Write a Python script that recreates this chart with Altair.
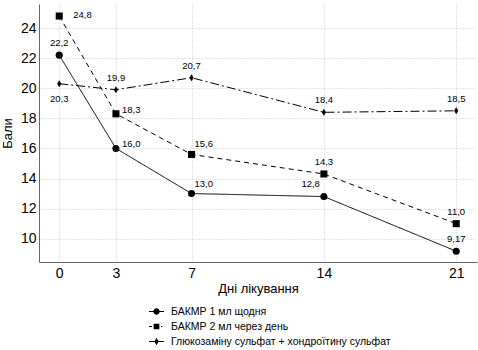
import altair as alt
import pandas as pd

days = [0, 3, 7, 14, 21]
series_names = ["БАКМР 1 мл щодня", "БАКМР 2 мл через день",
                "Глюкозаміну сульфат + хондроїтину сульфат"]
s1 = [22.2, 16.0, 13.0, 12.8, 9.17]
s2 = [24.8, 18.3, 15.6, 14.3, 11.0]
s3 = [20.3, 19.9, 20.7, 18.4, 18.5]
labels1 = ["22,2", "16,0", "13,0", "12,8", "9,17"]
labels2 = ["24,8", "18,3", "15,6", "14,3", "11,0"]
labels3 = ["20,3", "19,9", "20,7", "18,4", "18,5"]
place1 = ["above", "right", "aboveright", "aboveleft", "above"]
place2 = ["farright", "right", "aboveright", "above", "above"]
place3 = ["below", "above", "above", "above", "above"]
y_ticks = [10, 12, 14, 16, 18, 20, 22, 24]

rows = []
for name, vals, labs, places in zip(series_names, [s1, s2, s3],
                                    [labels1, labels2, labels3],
                                    [place1, place2, place3]):
    for d, v, lab, p in zip(days, vals, labs, places):
        rows.append({"day": d, "value": v, "series": name, "label": lab, "place": p})
df = pd.DataFrame(rows)

FONT = "Liberation Sans Narrow, Liberation Sans, Arial, sans-serif"

x_enc = alt.X("day:Q", scale=alt.Scale(domain=[-1.07, 22.1], nice=False, zero=False),
              axis=alt.Axis(values=days, title="Дні лікування", format="d"))
y_enc = alt.Y("value:Q", scale=alt.Scale(domain=[8.45, 25.6], nice=False, zero=False),
              axis=alt.Axis(values=y_ticks, title="Бали", format="d"))

base = alt.Chart(df)

lines = base.mark_line(color="black", strokeWidth=1).encode(
    x=x_enc, y=y_enc,
    strokeDash=alt.StrokeDash("series:N", scale=alt.Scale(domain=series_names,
                              range=[[1, 0], [5, 4], [9, 3, 2, 3]]), legend=None),
    detail="series:N",
)

points = base.mark_point(filled=True, color="black", opacity=1, size=50).encode(
    x=x_enc, y=y_enc,
    shape=alt.Shape("series:N", scale=alt.Scale(domain=series_names,
                    range=["circle", "square", "M0,-1L0.6,0L0,1L-0.6,0Z"]), legend=None),
)

# legend glyphs: line segments drawn as thin filled bars plus the marker
legend_paths = [
    "M-1,-0.07H-0.4V0.07H-1ZM0.4,-0.07H1V0.07H0.4Z"
    "M0.42,0A0.42,0.42,0,1,1,-0.42,0A0.42,0.42,0,1,1,0.42,0Z",
    "M-1,-0.07H-0.6V0.07H-1ZM0.6,-0.07H0.78V0.07H0.6Z"
    "M-0.38,-0.38H0.38V0.38H-0.38Z",
    "M-1,-0.07H-0.26V0.07H-1ZM0.26,-0.07H1V0.07H0.26Z"
    "M0,-0.5L0.28,0L0,0.5L-0.28,0Z",
]
legend_layer = base.transform_filter("datum.day < -100").mark_point(
    filled=True, color="black", opacity=1
).encode(
    x=x_enc, y=y_enc,
    shape=alt.Shape("series:N", scale=alt.Scale(domain=series_names, range=legend_paths),
                    legend=alt.Legend(title=None, orient="none", legendX=110, legendY=300,
                                      direction="vertical", symbolSize=225,
                                      symbolFillColor="black", symbolOpacity=1,
                                      symbolStrokeWidth=0,
                                      labelFont=FONT, labelFontSize=10.5, labelColor="black",
                                      labelOffset=7, rowPadding=2, padding=0,
                                      labelLimit=400)),
)

place_specs = {
    "above": dict(align="center", dx=0, dy=-12),
    "below": dict(align="center", dx=0, dy=15),
    "right": dict(align="left", dx=6, dy=-4),
    "farright": dict(align="left", dx=14, dy=-1),
    "aboveright": dict(align="left", dx=3, dy=-10),
    "aboveleft": dict(align="right", dx=-4, dy=-13),
}
text_layers = []
for p, spec in place_specs.items():
    text_layers.append(
        base.transform_filter(alt.datum.place == p).mark_text(
            font=FONT, fontSize=9.5, color="black", baseline="middle", **spec
        ).encode(x=x_enc, y=y_enc, text="label:N")
    )

chart = alt.layer(lines, points, legend_layer, *text_layers).resolve_scale(
    shape="independent"
).properties(
    width=438, height=258, autosize="none",
    padding={"left": 39, "top": 4, "right": 1, "bottom": 88},
).configure_view(stroke=None).configure_axis(
    labelFont=FONT, titleFont=FONT, labelFontSize=14, titleFontSize=13,
    labelColor="black", titleColor="black", titleFontWeight="normal",
    ticks=False, grid=True, gridColor="#c8c8c8", gridDash=[1, 2], gridWidth=1,
    domainColor="#666", domainWidth=1,
).configure_axisX(labelPadding=4, titlePadding=2).configure_axisY(
    labelPadding=3, titlePadding=6
)

chart.save("out.html", embed_options={"renderer": "svg", "actions": False})
